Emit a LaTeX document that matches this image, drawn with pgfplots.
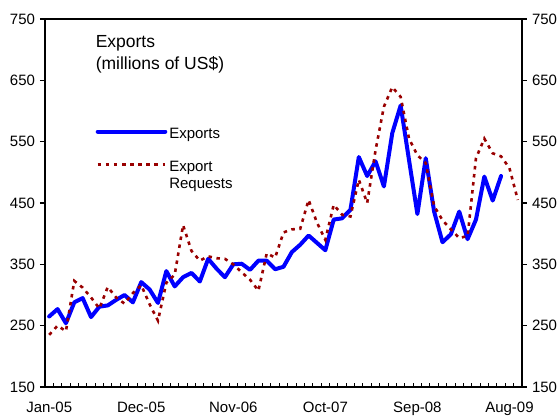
\documentclass[border=0pt]{standalone}
\usepackage{pgfplots}
\pgfplotsset{compat=1.18}
\usepackage{fontspec}
\setmainfont{Liberation Sans}
\definecolor{expblue}{RGB}{0,0,255}
\definecolor{reqred}{RGB}{153,0,0}

\pgfplotstableread{
i v
0 265
1 277
2 254
3 288
4 295
5 264
6 281
7 283
8 292
9 300
10 288
11 321
12 309
13 287
14 339
15 314
16 329
17 336
18 322
19 359
20 343
21 329
22 350
23 351
24 341
25 356
26 356
27 342
28 346
29 370
30 382
31 397
32 385
33 373
34 423
35 425
36 439
37 525
38 494
39 518
40 477
41 564
42 609
43 520
44 432
45 523
46 436
47 386
48 399
49 436
50 391
51 423
52 493
53 454
54 494
}\exports

\pgfplotstableread{
i v
0 235
1 250
2 241
3 323
4 312
5 296
6 278
7 313
8 296
9 286
10 303
11 316
12 285
13 258
14 320
15 333
16 414
17 372
18 356
19 363
20 360
21 359
22 350
23 337
24 325
25 307
26 368
27 361
28 402
29 407
30 408
31 455
32 418
33 390
34 447
35 431
36 428
37 488
38 450
39 536
40 607
41 639
42 623
43 555
44 528
45 515
46 445
47 422
48 407
49 393
50 396
51 523
52 555
53 531
54 526
55 507
56 455
}\requests

\begin{document}
\begin{tikzpicture}
\pgfplotsset{
  basestyle/.style={
    scale only axis, width=477bp, height=368bp,
    xmin=-0.5, xmax=56.5, ymin=150, ymax=750,
    /pgf/number format/assume math mode=true,
    ticklabel style={font=\fontsize{15bp}{18bp}\selectfont},
  },
}
% left labels
\begin{axis}[basestyle,
  xtick=\empty, ytick={150,250,...,750},
  ytick pos=left, yticklabel pos=left,
  tick align=outside, major tick length=5bp,
  major tick style={line width=1.5bp, black},
  yticklabel style={xshift=-1.5bp},
  axis line style={draw=none}]
\end{axis}
% right labels
\begin{axis}[basestyle,
  xtick=\empty, ytick={150,250,...,750},
  ytick pos=right, yticklabel pos=right,
  tick align=outside, major tick length=5bp,
  major tick style={line width=1.5bp, black},
  yticklabel style={xshift=1.5bp},
  axis line style={draw=none}]
\end{axis}
% data axis
\begin{axis}[basestyle,
  ytick=\empty,
  xtick={0,11,22,33,44,55},
  xticklabels={Jan-05,Dec-05,Nov-06,Oct-07,Sep-08,Aug-09},
  xtick pos=left, tick align=inside,
  major tick length=0pt,
  minor xtick={0.5,1.5,...,55.5},
  minor tick length=4bp,
  minor tick style={line width=1bp, black},
  xticklabel style={anchor=base, yshift=-25.7bp},
  axis line style={line width=1.8bp, black},
  legend style={at={(rel axis cs:0.1063,0.7168)}, anchor=north west,
    draw=none, fill=none, inner sep=0pt, outer sep=0pt,
    row sep=0pt, column sep=2bp,
    font=\fontsize{15bp}{18bp}\selectfont,
    nodes={inner sep=0pt}, cells={anchor=west}},
  legend cell align=left,
  legend image code/.code={\draw[#1] (0bp,0bp) -- (67.6bp,0bp);},
]
\addplot[expblue, line width=4bp, line join=round, line cap=round] table[x=i, y=v] {\exports};
\addlegendentry{\rule[-1.9bp]{0pt}{17bp}Exports}
\addlegendimage{empty legend}
\addlegendentry{\rule[-1.9bp]{0pt}{17bp}}
\addplot[reqred, line width=2.6bp, dash pattern=on 3.5bp off 4.6bp] table[x=i, y=v] {\requests};
\addlegendentry{\rule[-1.9bp]{0pt}{17bp}Export}
\addlegendimage{empty legend}
\addlegendentry{\rule[-1.9bp]{0pt}{17bp}Requests}
\node[anchor=base west, inner sep=0pt, font=\fontsize{17.5bp}{21bp}\selectfont] at (rel axis cs:0.106,0.9239) {Exports};
\node[anchor=base west, inner sep=0pt, font=\fontsize{17.5bp}{21bp}\selectfont] at (rel axis cs:0.106,0.8641) {(millions of US\$)};
\end{axis}
\pgfresetboundingbox
\useasboundingbox (-45bp,-33bp) rectangle (515bp,387bp);
\end{tikzpicture}
\end{document}
